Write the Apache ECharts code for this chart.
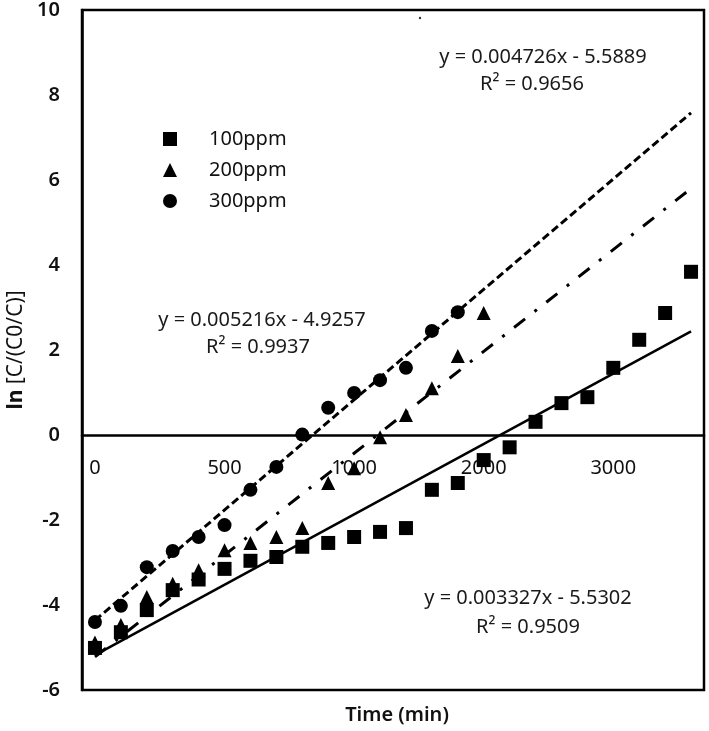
<!DOCTYPE html>
<html>
<head>
<meta charset="utf-8">
<script src="https://cdn.jsdelivr.net/npm/echarts@6/dist/echarts.min.js"></script>
<style>
html,body{margin:0;padding:0;background:#fff;}
#chart{width:709px;height:731px;}
</style>
</head>
<body>
<div id="chart"></div>
<script>
// Time categories (min)
const times = [0,100,200,300,400,500,600,700,800,900,1000,1200,1400,1600,1800,2000,2200,2400,2600,2800,3000,3200,3400,3600];
const xTickLabels = ['0','500','1000','2000','3000'];
// ln values per series
const ppm100 = [-5.01,-4.64,-4.12,-3.65,-3.40,-3.15,-2.96,-2.87,-2.63,-2.54,-2.40,-2.28,-2.19,-1.29,-1.13,-0.59,-0.29,0.31,0.75,0.89,1.58,2.24,2.87,3.84];
const ppm200 = [-4.88,-4.47,-3.81,-3.50,-3.18,-2.71,-2.54,-2.40,-2.19,-1.13,-0.78,-0.05,0.47,1.10,1.86,2.87];
const ppm300 = [-4.40,-4.02,-3.11,-2.73,-2.40,-2.12,-1.29,-0.75,0.01,0.64,0.99,1.29,1.58,2.45,2.89];
// trend line endpoints (first and last category)
const trendStart = {p100:-5.18, p200:-5.22, p300:-4.36};
const trendEnd   = {p100: 2.44, p200: 5.80, p300: 7.58};
const eqTexts = [
  {eq:'y = 0.004726x - 5.5889', r2:'R² = 0.9656'},
  {eq:'y = 0.005216x - 4.9257', r2:'R² = 0.9937'},
  {eq:'y = 0.003327x - 5.5302', r2:'R² = 0.9509'}
];

const FONT = 'Noto Sans';
const cats = times.map(String);
const last = cats.length - 1;
function trend(a,b){ return [[0,a],[last,b]]; }

const GRID_TOP = 10, GRID_BOTTOM = 41, H = 731;
const Y_MIN = -6, Y_MAX = 10;
const gridH = H - GRID_TOP - GRID_BOTTOM;
const zeroOffset = -Math.round(gridH * (0 - Y_MIN) / (Y_MAX - Y_MIN));

const chart = echarts.init(document.getElementById('chart'), null, {renderer:'canvas'});
chart.setOption({
  animation:false,
  backgroundColor:'#fff',
  textStyle:{fontFamily:FONT},
  grid:{left:82, top:GRID_TOP, right:5, bottom:GRID_BOTTOM, containLabel:false, outerBoundsMode:'none',
    show:true, borderColor:'#000', borderWidth:2.5, backgroundColor:'transparent'},
  legend:{
    orient:'vertical', left:158, top:124, itemWidth:14, itemHeight:14, itemGap:11,
    data:['100ppm','200ppm','300ppm'],
    textStyle:{fontFamily:FONT, fontSize:20, color:'#111', padding:[0,0,0,27]},
    selectedMode:false
  },
  xAxis:{
    type:'category', data:cats, boundaryGap:true, position:'bottom', offset:zeroOffset,
    axisLine:{onZero:false, lineStyle:{color:'#000', width:2.5}},
    axisTick:{show:false},
    axisLabel:{interval:4, margin:23, fontSize:20, color:'#111', fontFamily:FONT,
      formatter:function(v){ return xTickLabels.indexOf(v) >= 0 ? v : ''; }},
    splitLine:{show:false}
  },
  yAxis:{
    type:'value', min:Y_MIN, max:Y_MAX, interval:2,
    axisLine:{show:true, onZero:false, lineStyle:{color:'#000', width:2.5}},
    axisTick:{show:false},
    splitLine:{show:false},
    axisLabel:{fontSize:20, fontWeight:600, color:'#111', margin:22, fontFamily:FONT},
    name:'{b|ln} [C/(C0/C)]', nameLocation:'middle', nameGap:52, nameRotate:90,
    nameTextStyle:{fontSize:21, color:'#111', fontFamily:FONT, rich:{b:{fontWeight:'bold', fontSize:21, fontFamily:FONT, color:'#111'}}}
  },
  series:[
    {name:'trend100', type:'line', data:trend(trendStart.p100, trendEnd.p100), symbol:'none', silent:true, z:2,
      lineStyle:{color:'#000', width:2.5, type:'solid'}},
    {name:'trend200', type:'line', data:trend(trendStart.p200, trendEnd.p200), symbol:'none', silent:true, z:2,
      lineStyle:{color:'#000', width:3, type:[14,12,3,12]}},
    {name:'trend300', type:'line', data:trend(trendStart.p300, trendEnd.p300), symbol:'none', silent:true, z:2,
      lineStyle:{color:'#000', width:3, type:[8,4]}},
    {name:'100ppm', type:'scatter', data:ppm100, symbol:'rect', symbolSize:14, itemStyle:{color:'#000', opacity:1}, z:3},
    {name:'200ppm', type:'scatter', data:ppm200, symbol:'triangle', symbolSize:14, itemStyle:{color:'#000', opacity:1}, z:3},
    {name:'300ppm', type:'scatter', data:ppm300, symbol:'circle', symbolSize:14, itemStyle:{color:'#000', opacity:1}, z:3}
  ],
  graphic:[
    {type:'text', style:{text:'Time (min)', x:397, y:715, fontSize:20, fontWeight:600, fontFamily:FONT, fill:'#111', align:'center', verticalAlign:'middle'}},
    {type:'text', style:{text:eqTexts[0].eq, x:543, y:57, fontSize:20, fontFamily:FONT, fill:'#1a1a1a', align:'center', verticalAlign:'middle'}},
    {type:'text', style:{text:eqTexts[0].r2, x:532, y:84, fontSize:20, fontFamily:FONT, fill:'#1a1a1a', align:'center', verticalAlign:'middle'}},
    {type:'text', style:{text:eqTexts[1].eq, x:262, y:320, fontSize:20, fontFamily:FONT, fill:'#1a1a1a', align:'center', verticalAlign:'middle'}},
    {type:'text', style:{text:eqTexts[1].r2, x:258, y:347, fontSize:20, fontFamily:FONT, fill:'#1a1a1a', align:'center', verticalAlign:'middle'}},
    {type:'text', style:{text:eqTexts[2].eq, x:528, y:598, fontSize:20, fontFamily:FONT, fill:'#1a1a1a', align:'center', verticalAlign:'middle'}},
    {type:'text', style:{text:eqTexts[2].r2, x:528, y:627, fontSize:20, fontFamily:FONT, fill:'#1a1a1a', align:'center', verticalAlign:'middle'}},
    {type:'circle', shape:{cx:420, cy:18, r:1.2}, style:{fill:'#333'}}
  ]
});
</script>
</body>
</html>
